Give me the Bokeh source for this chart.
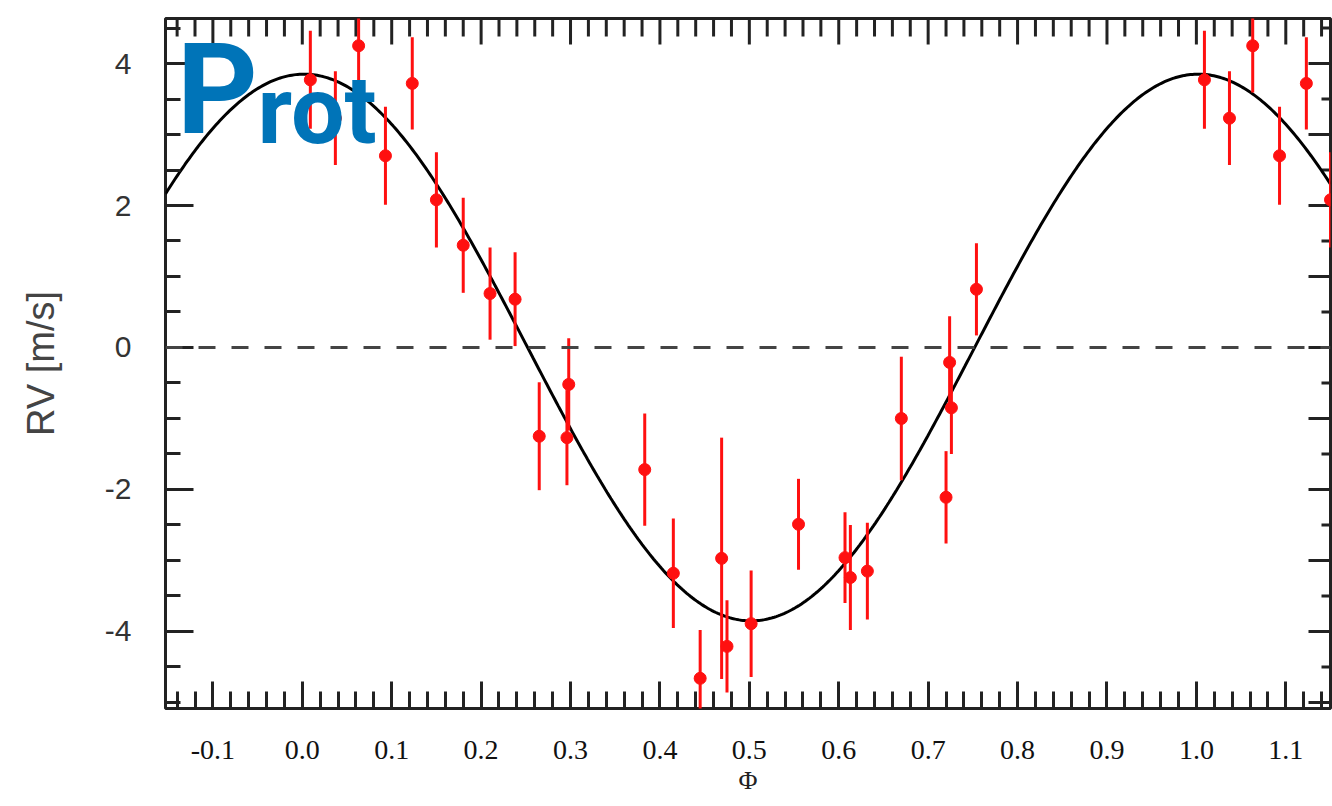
import numpy as np
from bokeh.plotting import figure
from bokeh.models import ColumnDataSource, FixedTicker, Span, Label, Range1d
from bokeh.embed import file_html
from bokeh.resources import INLINE

# ---- data ----
phase = [0.009, 0.037, 0.063, 0.093, 0.123, 0.150, 0.180, 0.210, 0.238, 0.265,
         0.296, 0.298, 0.383, 0.415, 0.445, 0.469, 0.475, 0.502, 0.555, 0.607,
         0.613, 0.632, 0.670, 0.720, 0.724, 0.726, 0.754]
rv = [3.77, 3.23, 4.25, 2.70, 3.72, 2.08, 1.44, 0.76, 0.68, -1.25,
      -1.27, -0.52, -1.72, -3.18, -4.66, -2.97, -4.21, -3.89, -2.49, -2.96,
      -3.24, -3.15, -1.00, -2.11, -0.21, -0.85, 0.82]
rv_err = [0.69, 0.66, 0.66, 0.69, 0.65, 0.67, 0.67, 0.65, 0.66, 0.76,
          0.67, 0.65, 0.79, 0.77, 0.68, 1.70, 0.65, 0.75, 0.64, 0.64,
          0.74, 0.68, 0.87, 0.65, 0.65, 0.65, 0.65]

# sinusoidal model (fit) parameters
K_amp = 3.85
phi0 = 0.002

x_ticks = [-0.1, 0.0, 0.1, 0.2, 0.3, 0.4, 0.5, 0.6, 0.7, 0.8, 0.9, 1.0, 1.1]
x_labels = ["-0.1", "0.0", "0.1", "0.2", "0.3", "0.4", "0.5", "0.6", "0.7",
            "0.8", "0.9", "1.0", "1.1"]
y_ticks = [-4, -2, 0, 2, 4]
y_labels = ["-4", "-2", "0", "2", "4"]

X_MIN, X_MAX = -0.153, 1.150
Y_MIN, Y_MAX = -5.085, 4.634

# ---- derived ----
ph = np.array(phase)
v = np.array(rv)
e = np.array(rv_err)
ph_all = np.concatenate([ph, ph + 1.0])
v_all = np.concatenate([v, v])
e_all = np.concatenate([e, e])
src = ColumnDataSource(dict(x=ph_all, y=v_all, lo=v_all - e_all, hi=v_all + e_all))

grid = np.linspace(X_MIN, X_MAX, 600)
model = K_amp * np.cos(2 * np.pi * (grid - phi0))

x_minor = [round(float(t), 2) for t in np.arange(-0.14, 1.15, 0.02)
           if min(abs(t - m) for m in x_ticks) > 1e-6]
y_minor = [float(t) for t in np.arange(-5.0, 4.6, 0.5) if t not in y_ticks]
y_int = [float(t) for t in range(-5, 5)]
y_half = [t + 0.5 for t in range(-5, 5) if t + 0.5 < Y_MAX]

p = figure(width=1332, height=806,
           x_range=Range1d(X_MIN, X_MAX), y_range=Range1d(Y_MIN, Y_MAX),
           output_backend="svg", toolbar_location=None,
           min_border_left=165, min_border_right=2,
           min_border_top=18, min_border_bottom=98)
p.grid.visible = False
p.background_fill_color = "white"
p.border_fill_color = "white"
p.outline_line_color = "#222222"
p.outline_line_width = 3

TICK_COLOR = "#222222"

# bottom axis
xa = p.xaxis[0]
xa.ticker = FixedTicker(ticks=x_ticks, minor_ticks=x_minor)
xa.major_label_overrides = {t: l for t, l in zip(x_ticks, x_labels)}
xa.axis_line_color = None
xa.major_tick_in = 27
xa.major_tick_out = 0
xa.minor_tick_in = 17
xa.minor_tick_out = 0
xa.major_tick_line_width = 3
xa.minor_tick_line_width = 3
xa.major_tick_line_color = TICK_COLOR
xa.minor_tick_line_color = TICK_COLOR
xa.major_label_standoff = 32
xa.major_label_text_font = "Liberation Serif"
xa.major_label_text_font_size = "28px"
xa.major_label_text_color = "#111111"
xa.axis_label = "Φ"
xa.axis_label_text_font = "Liberation Serif"
xa.axis_label_text_font_size = "26px"
xa.axis_label_text_font_style = "normal"
xa.axis_label_text_color = "#222222"
xa.axis_label_standoff = 4

# left axis
ya = p.yaxis[0]
ya.ticker = FixedTicker(ticks=y_ticks, minor_ticks=y_minor)
ya.major_label_overrides = {t: l for t, l in zip(y_ticks, y_labels)}
ya.axis_line_color = None
ya.major_tick_in = 28
ya.major_tick_out = 0
ya.minor_tick_in = 15
ya.minor_tick_out = 0
ya.major_tick_line_width = 3
ya.minor_tick_line_width = 3
ya.major_tick_line_color = TICK_COLOR
ya.minor_tick_line_color = TICK_COLOR
ya.major_label_standoff = 34
ya.major_label_text_font = "Liberation Sans"
ya.major_label_text_font_size = "30px"
ya.major_label_text_color = "#333333"
ya.axis_label = "RV [m/s]"
ya.axis_label_text_font = "Liberation Sans"
ya.axis_label_text_font_size = "38px"
ya.axis_label_text_font_style = "normal"
ya.axis_label_text_color = "#444444"
ya.axis_label_standoff = 40

# top and right frame ticks (pointing inward; half of each dash is clipped by the frame)
p.scatter(x=x_ticks, y=[Y_MAX] * len(x_ticks), marker="dash", angle=np.pi / 2,
          size=52, line_color=TICK_COLOR, line_width=3)
p.scatter(x=x_minor, y=[Y_MAX] * len(x_minor), marker="dash", angle=np.pi / 2,
          size=36, line_color=TICK_COLOR, line_width=3)
p.scatter(x=[X_MAX] * len(y_int), y=y_int, marker="dash",
          size=44, line_color=TICK_COLOR, line_width=3)
p.scatter(x=[X_MAX] * len(y_half), y=y_half, marker="dash",
          size=18, line_color=TICK_COLOR, line_width=3)

# zero line
p.add_layout(Span(location=0, dimension="width", line_color="#444444",
                  line_width=3, line_dash="17 16"))

# model curve
p.line(grid, model, line_color="black", line_width=3)

# error bars and points
p.segment(x0="x", y0="lo", x1="x", y1="hi", source=src,
          line_color="#ff1010", line_width=3)
p.scatter(x="x", y="y", source=src, marker="circle", size=12,
          fill_color="#ff1010", line_color="#ff1010")

# P_rot label
BLUE = "#0074B8"
p.add_layout(Label(x=-0.1405, y=3.620, text="P", text_font="Roboto",
                   text_font_style="bold", text_font_size="126px",
                   text_color=BLUE, text_baseline="alphabetic"))
p.add_layout(Label(x=-0.050, y=3.340, text="rot", text_font="Roboto",
                   text_font_style="bold", text_font_size="95px",
                   text_color=BLUE, text_baseline="alphabetic"))

open("out.html", "w").write(file_html(p, INLINE))
